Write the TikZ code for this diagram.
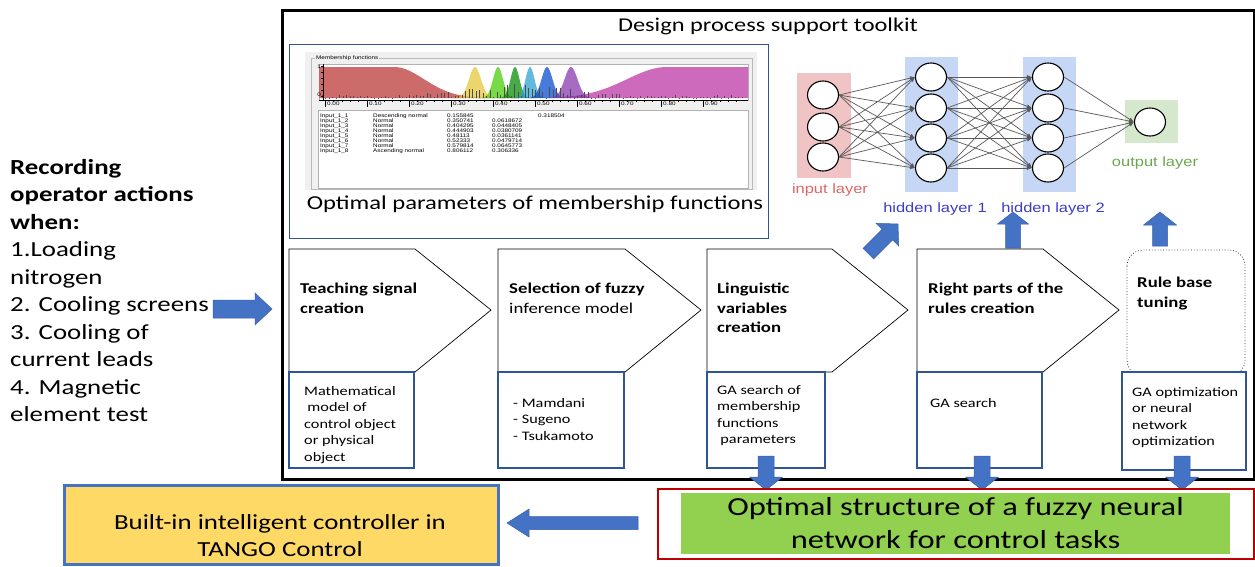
\documentclass[tikz,border=0pt]{standalone}
\usepackage{fontspec}
\setmainfont{Carlito}[FakeStretch=1.25]
\newfontfamily\arialf{Liberation Sans}[FakeStretch=1.22]
\usetikzlibrary{arrows.meta,shapes.geometric}
\definecolor{bdblue}{HTML}{2F5597}
\definecolor{arrblue}{HTML}{4472C4}
\definecolor{ylw}{HTML}{FFD966}
\definecolor{grn}{HTML}{92D050}
\definecolor{dred}{HTML}{C00000}
\definecolor{pinkl}{HTML}{F0C4C4}
\definecolor{bluel}{HTML}{C6D7F5}
\definecolor{greenl}{HTML}{D5E8CE}
\definecolor{lblred}{HTML}{E06666}
\definecolor{lblblue}{HTML}{3C3CC8}
\definecolor{lblgreen}{HTML}{6AA84F}
\definecolor{panelbg}{HTML}{F0F0F0}
\definecolor{mfred}{HTML}{C85A5A}
\definecolor{mfmag}{HTML}{C85AB4}
\newcommand{\blkarrow}[7]{%
  \begin{scope}[shift={(#1,#2)},rotate=#3]
    \filldraw[barrow] (0,0) -- ({-#7},{#6/2}) -- ({-#7},{#5/2}) -- ({-#4},{#5/2})
      -- ({-#4},{-#5/2}) -- ({-#7},{-#5/2}) -- ({-#7},{-#6/2}) -- cycle;
  \end{scope}}
\newcommand{\gbump}[3]{% center, sigma, colour
  \fill[#3, opacity=0.72] ({#1-4*#2},98) -- plot[domain={#1-4*#2}:{#1+4*#2}, samples=40, smooth]
    (\x,{98-31*exp(-((\x-#1)/#2)^2/2)}) -- cycle;}
\tikzset{
  chev/.style={draw=black, line width=0.7, fill=white},
  subbox/.style={draw=bdblue, line width=1.2, fill=white},
  barrow/.style={fill=arrblue, draw=arrblue!85!black, line width=0.5},
  neuron/.style={ellipse, draw=black, line width=1.1, fill=white, minimum width=31, minimum height=28, inner sep=0},
  nnedge/.style={draw=gray!70!black, line width=0.7, -{Latex[length=5pt,width=4pt]}},
  ctitle/.style={font=\bfseries\fontsize{15}{19.5}\selectfont, anchor=north west, align=left, inner sep=0},
  ctext/.style={font=\fontsize{13}{16.5}\selectfont, anchor=north west, align=left, inner sep=0},
  tiny/.style={font=\arialf\fontsize{5.2}{5.2}\selectfont, inner sep=0, anchor=west},
  nnlabel/.style={font=\arialf\fontsize{13.5}{15}\selectfont, inner sep=0},
}
\begin{document}
\begin{tikzpicture}[x=1pt,y=-1pt]
\useasboundingbox (0,0) rectangle (1255,566);
\fill[white] (0,0) rectangle (1255,566);

% ---------- left text ----------
\node[anchor=north west, align=left, inner sep=0, font=\fontsize{21.5}{27.5}\selectfont] (rec) at (10,159)
 {\textbf{Recording}\\\textbf{operator actions}\\\textbf{when:}\\1.Loading\\nitrogen\\2. Cooling screens\\3. Cooling of\\current leads\\4. Magnetic\\element test};

% ---------- outer toolkit box ----------
\node[draw=black, line width=3, minimum width=972, minimum height=469, anchor=north west, inner sep=0] (toolkit) at (281,9) {};
\node[font=\fontsize{19.5}{20}\selectfont, inner sep=0] (title) at (768,26) {Design process support toolkit};

% ---------- membership function image box ----------
\node[draw=bdblue, line width=1.2, minimum width=479, minimum height=194, anchor=north west, inner sep=0] (imgbox) at (289,44) {};
\fill[panelbg] (305,52) rectangle (757,190);
\draw[gray!55, line width=0.5] (311,58) rectangle (752,189);
\node[tiny, fill=panelbg, inner xsep=1] (mflabel) at (315,58) {Membership functions};
% chart
\fill[white] (319,64) rectangle (748,100);
\draw[gray!60, line width=0.5] (319,64) rectangle (748,100);
\fill[mfred, opacity=0.9] (319,98) -- (319,67) -- (394,67)
  -- plot[domain=394:520, samples=50, smooth] (\x,{98-31*exp(-((\x-394)/30)^2/2)}) -- (520,98) -- cycle;
\fill[mfmag, opacity=0.9] (560,98)
  -- plot[domain=560:667, samples=50, smooth] (\x,{98-31*exp(-((\x-667)/40)^2/2)}) -- (748,67) -- (748,98) -- cycle;
\gbump{475}{6}{yellow!55!brown}
\gbump{498}{5}{green!55!lime!80!black}
\gbump{515}{4.5}{green!55!black}
\gbump{530}{4.5}{cyan!65!teal}
\gbump{547}{5.5}{blue!65!cyan!80!black}
\gbump{571}{6.5}{violet!80!blue!80}
\pgfmathsetseed{7}
\foreach \i in {0,...,120}{
  \pgfmathsetmacro\hx{322+3.5*\i}
  \pgfmathsetmacro\hh{rnd*(3+11*exp(-((\hx-520)/70)^2))}
  \draw[gray!60!black, line width=0.35] (\hx,98) -- (\hx,{98-\hh});
}
\draw[black, line width=0.5] (323,64) -- (323,100);
\foreach \t in {66,72,78,84,90,96}{\draw[black, line width=0.3] (321,\t) -- (323,\t);}
\node[tiny, anchor=east] (one) at (321,67) {1};
\node[tiny, anchor=east] (zero) at (321,95) {0};
\draw[black, line width=0.5] (319,100) -- (748,100);
\foreach \i/\lab in {0/0.00,1/0.10,2/0.20,3/0.30,4/0.40,5/0.50,6/0.60,7/0.70,8/0.80,9/0.90}{
  \draw[black, line width=0.4] ({325+42*\i},100) -- ({325+42*\i},107);
  \node[tiny] at ({327+42*\i},104) {\lab};
}
\foreach \i in {0,...,49}{\draw[black, line width=0.3] ({325+8.4*\i},100) -- ({325+8.4*\i},102);}
% table
\fill[white] (318,110) rectangle (748,188);
\draw[gray!60, line width=0.5] (318,110) rectangle (748,188);
\foreach \r/\nm/\ty/\va/\vb/\vc in {
  0/Input\_1\_1/Descending normal/0.155845//0.318504,
  1/Input\_1\_2/Normal/0.350741/0.0618672/,
  2/Input\_1\_3/Normal/0.404295/0.0448405/,
  3/Input\_1\_4/Normal/0.444903/0.0380709/,
  4/Input\_1\_5/Normal/0.48113/0.0361141/,
  5/Input\_1\_6/Normal/0.52333/0.0479714/,
  6/Input\_1\_7/Normal/0.579814/0.0645773/,
  7/Input\_1\_8/Ascending normal/0.806112/0.306336/}{
  \node[tiny] at (320,{116+5*\r}) {\nm};
  \node[tiny] at (373,{116+5*\r}) {\ty};
  \node[tiny] at (447,{116+5*\r}) {\va};
  \node[tiny] at (492,{116+5*\r}) {\vb};
  \node[tiny] at (538,{116+5*\r}) {\vc};
}
\node[font=\fontsize{19.7}{22}\selectfont, inner sep=0] (caption) at (535,204) {Optimal parameters of membership functions};

% ---------- neural network ----------
\fill[pinkl] (797,73) rectangle (851,178);
\fill[bluel] (905,57) rectangle (958,192);
\fill[bluel] (1023,57) rectangle (1076,192);
\fill[greenl] (1125,100) rectangle (1178,143);
\foreach \i/\y in {1/95,2/127,3/157}{\node[neuron] (i\i) at (823,\y) {};}
\foreach \i/\y in {1/77,2/108,3/138,4/168}{\node[neuron] (h\i) at (931,\y) {};}
\foreach \i/\y in {1/77,2/108,3/138,4/168}{\node[neuron] (g\i) at (1048,\y) {};}
\node[neuron] (o1) at (1150,122) {};
\foreach \a in {1,2,3}{\foreach \b in {1,2,3,4}{\draw[nnedge] (i\a.east) -- (h\b.west);}}
\foreach \a in {1,2,3,4}{\foreach \b in {1,2,3,4}{\draw[nnedge] (h\a.east) -- (g\b.west);}}
\foreach \a in {1,2,3,4}{\draw[nnedge] (g\a.east) -- (o1.west);}
\node[nnlabel, text=lblred] (inlab) at (830,190) {input layer};
\node[nnlabel, text=lblblue] (h1lab) at (935,209) {hidden layer 1};
\node[nnlabel, text=lblblue] (h2lab) at (1053,209) {hidden layer 2};
\node[nnlabel, text=lblgreen] (outlab) at (1155,163) {output layer};

% ---------- arrows up to network ----------
\blkarrow{898}{224}{45}{42}{15}{32}{15}
\blkarrow{1013}{212}{90}{36}{15}{31}{12}
\blkarrow{1160}{212}{90}{34}{15}{33}{13}

% ---------- process chevrons ----------
\draw[chev] (289,249) -- (415,249) -- (491,310) -- (415,372) -- (289,372) -- cycle;
\draw[chev] (498,249) -- (625,249) -- (701,310) -- (625,372) -- (498,372) -- cycle;
\draw[chev] (707,249) -- (832,249) -- (908,310) -- (832,372) -- (707,372) -- cycle;
\draw[chev] (917,249) -- (1043,249) -- (1119,310) -- (1043,372) -- (917,372) -- cycle;
\draw[black!80, line width=0.8, dotted, rounded corners=16, fill=white] (1127,250) rectangle (1245,376);

\node[ctitle] (c1) at (300,283) {Teaching signal\\creation};
\node[ctitle] (c2) at (509,283) {Selection of fuzzy\\\mdseries inference model};
\node[ctitle] (c3) at (717,283) {Linguistic\\variables\\creation};
\node[ctitle] (c4) at (928,283) {Right parts of the\\rules creation};
\node[ctitle] (c5) at (1137,277) {Rule base\\tuning};

% ---------- sub boxes ----------
\draw[subbox] (289,372) rectangle (414,468);
\draw[subbox] (498,372) rectangle (624,468);
\draw[subbox] (707,372) rectangle (825,468);
\draw[subbox] (917,372) rectangle (1042,468);
\draw[subbox] (1122,372) rectangle (1246,470);
\node[ctext] (s1) at (304,386) {Mathematical\\\hspace{0.25em}model of\\control object\\or physical\\object};
\node[ctext] (s2) at (513,398) {- Mamdani\\- Sugeno\\- Tsukamoto};
\node[ctext] (s3) at (717,385) {GA search of\\membership\\functions\\\hspace{0.25em}parameters};
\node[ctext] (s4) at (930,398) {GA search};
\node[ctext] (s5) at (1132,387) {GA optimization\\or neural\\network\\optimization};

% ---------- down arrows ----------
\blkarrow{766}{490}{-90}{34}{16}{33}{13}
\blkarrow{982}{490}{-90}{34}{16}{33}{13}
\blkarrow{1182}{490}{-90}{34}{16}{33}{13}

% ---------- bottom boxes ----------
\node[draw=dred, line width=2, fill=white, minimum width=596, minimum height=70, anchor=north west, inner sep=0] (redbox) at (657,488) {};
\node[fill=grn, minimum width=549, minimum height=61, inner sep=0, align=center,
      font=\fontsize{26}{33}\selectfont] (optbox) at (955.5,523.5) {Optimal structure of a fuzzy neural\\network for control tasks};
\node[draw=arrblue, line width=2.5, fill=ylw, minimum width=434, minimum height=79, anchor=north west, inner sep=0] (ctrl) at (63,484) {};
\node[align=center, font=\fontsize{21.5}{27}\selectfont, inner sep=0] (ctrltxt) at (280,536) {Built-in intelligent controller in\\TANGO Control};

% ---------- horizontal arrows ----------
\blkarrow{272}{309}{0}{59}{18}{32}{17}
\blkarrow{507}{523}{180}{131}{13}{28}{22}
\end{tikzpicture}
\end{document}
